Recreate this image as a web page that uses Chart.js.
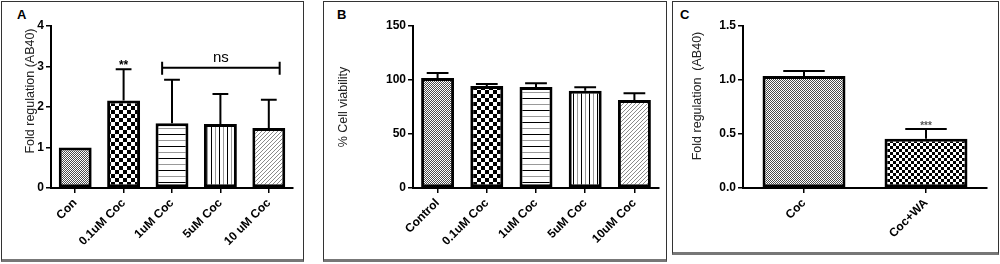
<!DOCTYPE html>
<html>
<head>
<title>Fold regulation (AB40) / Cell viability</title>
<script src="https://cdn.jsdelivr.net/npm/chart.js"></script>
<style>
  body {
    margin: 0;
    width: 1000px;
    height: 264px;
    background: #fff;
    position: relative;
    overflow: hidden;
    font-family: "Liberation Sans", Arial, sans-serif;
  }
  .panel {
    position: absolute;
    box-sizing: border-box;
    border: 1px solid #333;
    border-bottom: 3px solid #777;
  }
  .letter {
    position: absolute;
    font-weight: bold;
    font-size: 13px;
    line-height: 13px;
    color: #000;
  }
  canvas { position: absolute; }
</style>
</head>
<body>
  <div class="panel" style="left:1px;top:1px;width:303px;height:261px"></div>
  <div class="panel" style="left:323px;top:1px;width:344px;height:261px"></div>
  <div class="panel" style="left:672px;top:1px;width:327px;height:254px"></div>
  <div class="letter" style="left:17px;top:8px">A</div>
  <div class="letter" style="left:337px;top:8px">B</div>
  <div class="letter" style="left:680px;top:8px">C</div>

  <canvas id="chartA" width="299" height="257" style="left:3px;top:2px"></canvas>
  <canvas id="chartB" width="340" height="257" style="left:325px;top:2px"></canvas>
  <canvas id="chartC" width="323" height="249" style="left:674px;top:2px"></canvas>

<script>
  // panel A
  const labelsA = ['Con', '0.1uM Coc', '1uM Coc', '5uM Coc', '10 uM Coc'];
  const meansA = [1.0, 2.16, 1.60, 1.58, 1.48];
  const errA = [0, 0.77, 1.07, 0.74, 0.70];
  const starsA = ['', '**', '', '', ''];
  const ticksA = [0, 1, 2, 3, 4];
  const nsA = { from: 2, to: 4, y: 2.97, text: 'ns' };

  // panel B
  const labelsB = ['Control', '0.1uM Coc', '1uM Coc', '5uM Coc', '10uM Coc'];
  const meansB = [101.9, 94.4, 93.5, 90.1, 81.5];
  const errB = [4.6, 1.9, 3.4, 3.1, 6.2];
  const ticksB = [0, 50, 100, 150];

  // panel C
  const labelsC = ['Coc', 'Coc+WA'];
  const meansC = [1.037, 0.457];
  const errC = [0.046, 0.089];
  const starsC = ['', '***'];
  const ticksC = [0, 0.5, 1.0, 1.5];

  const FONT = '"Liberation Sans", Arial, sans-serif';

  // fill patterns (GraphPad style)
  function tile(w, h, draw) {
    const c = document.createElement('canvas');
    c.width = w; c.height = h;
    const g = c.getContext('2d');
    g.fillStyle = '#fff';
    g.fillRect(0, 0, w, h);
    draw(g);
    return document.createElement('canvas').getContext('2d').createPattern(c, 'repeat');
  }
  const fineCheck = () => tile(2, 2, g => {
    g.fillStyle = '#4a4a4a';
    g.fillRect(0, 0, 1, 1);
    g.fillRect(1, 1, 1, 1);
  });
  const bigCheck = s => tile(s * 2, s * 2, g => {
    g.fillStyle = '#000';
    g.fillRect(0, 0, s, s);
    g.fillRect(s, s, s, s);
  });
  const hStripes = () => tile(4, 12, g => {
    g.fillStyle = '#000';
    g.fillRect(0, 0, 4, 1);
    g.fillStyle = '#999';
    g.fillRect(0, 6, 4, 1);
  });
  const vStripes = () => tile(8, 4, g => {
    g.fillStyle = '#000';
    g.fillRect(0, 0, 1, 4);
    g.fillStyle = '#999';
    g.fillRect(4, 0, 1, 4);
  });
  const diag = () => tile(4, 4, g => {
    g.fillStyle = '#8a8a8a';
    for (let i = 0; i < 4; i++) g.fillRect(3 - i, i, 1, 1);
  });

  // error bars, significance marks, y title
  const extras = {
    id: 'extras',
    afterDatasetsDraw(chart, args, opts) {
      const ctx = chart.ctx;
      const y = chart.scales.y;
      const meta = chart.getDatasetMeta(0);
      const means = chart.data.datasets[0].data;
      ctx.save();
      ctx.strokeStyle = '#000';
      ctx.lineWidth = 2;
      meta.data.forEach((bar, i) => {
        const e = opts.errs[i];
        if (!e) return;
        const y0 = y.getPixelForValue(means[i]);
        const y1 = y.getPixelForValue(means[i] + e);
        const half = bar.width * opts.cap / 2;
        ctx.beginPath();
        ctx.moveTo(bar.x, y0);
        ctx.lineTo(bar.x, y1);
        ctx.moveTo(bar.x - half, y1);
        ctx.lineTo(bar.x + half, y1);
        ctx.stroke();
      });
      if (opts.stars) {
        ctx.fillStyle = opts.starColor || '#000';
        ctx.font = 'bold ' + (opts.starSize || 11) + 'px ' + FONT;
        ctx.textAlign = 'center';
        ctx.textBaseline = 'alphabetic';
        meta.data.forEach((bar, i) => {
          if (!opts.stars[i]) return;
          const y1 = y.getPixelForValue(means[i] + opts.errs[i]);
          ctx.fillText(opts.stars[i], bar.x, y1 + opts.starShift);
        });
      }
      if (opts.bracket) {
        const b = opts.bracket;
        const a = meta.data[b.from], z = meta.data[b.to];
        const x0 = a.x - a.width * 0.3, x1 = z.x + z.width * 0.33;
        const yy = y.getPixelForValue(b.y);
        ctx.beginPath();
        ctx.moveTo(x0, yy); ctx.lineTo(x1, yy);
        ctx.moveTo(x0, yy - 6); ctx.lineTo(x0, yy + 7);
        ctx.moveTo(x1, yy - 6); ctx.lineTo(x1, yy + 7);
        ctx.stroke();
        ctx.fillStyle = '#000';
        ctx.font = '15px ' + FONT;
        ctx.textAlign = 'center';
        ctx.fillText(b.text, (x0 + x1) / 2, yy - 6);
      }
      // rotated y axis title
      const t = opts.title;
      ctx.translate(t.x, t.y);
      ctx.rotate(-Math.PI / 2);
      ctx.fillStyle = '#222';
      ctx.font = t.size + 'px ' + FONT;
      ctx.textAlign = 'center';
      ctx.textBaseline = 'middle';
      ctx.fillText(t.text, 0, 0);
      ctx.restore();
    }
  };

  function makeChart(id, labels, means, fills, o) {
    return new Chart(document.getElementById(id), {
      type: 'bar',
      data: {
        labels: labels,
        datasets: [{
          data: means,
          backgroundColor: fills,
          borderColor: '#000',
          borderWidth: 3,
          borderSkipped: false,
          barPercentage: o.barPct,
          categoryPercentage: 1
        }]
      },
      options: {
        responsive: false,
        animation: false,
        layout: { padding: { top: 24, right: o.right, left: 0, bottom: 0 } },
        scales: {
          x: {
            ticks: {
              color: '#000',
              font: { family: FONT, weight: 'bold', size: 12 },
              minRotation: 45,
              maxRotation: 45,
              autoSkip: false,
              padding: 3
            },
            grid: { offset: false, drawOnChartArea: false, tickLength: 5, color: '#000', lineWidth: 1.5 },
            border: { width: 2, color: '#000' },
            afterFit: s => { s.height = o.xHeight; s.paddingLeft = 0; s.paddingRight = 0; }
          },
          y: {
            min: o.ticks[0],
            max: o.ticks[o.ticks.length - 1],
            afterBuildTicks: s => { s.ticks = o.ticks.map(v => ({ value: v })); },
            ticks: {
              color: '#000',
              font: { family: FONT, weight: 'bold', size: 12 },
              padding: 2,
              callback: o.fmt
            },
            grid: { drawOnChartArea: false, tickLength: 5, color: '#000', lineWidth: 1.5 },
            border: { width: 2, color: '#000' },
            afterFit: s => { s.width = o.yWidth; }
          }
        },
        plugins: {
          legend: { display: false },
          tooltip: { enabled: false },
          extras: o.extras
        }
      },
      plugins: [extras]
    });
  }

  makeChart('chartA', labelsA, meansA,
    [fineCheck(), bigCheck(4), hStripes(), vStripes(), diag()],
    {
      barPct: 0.68, right: 9, xHeight: 71, yWidth: 48,
      ticks: ticksA, fmt: v => v,
      extras: {
        errs: errA, cap: 0.48, stars: starsA, starSize: 12, starShift: 0, bracket: nsA,
        title: { text: 'Fold regulation (AB40)', x: 28, y: 89, size: 12.5 }
      }
    });

  makeChart('chartB', labelsB, meansB,
    [fineCheck(), bigCheck(4), hStripes(), vStripes(), diag()],
    {
      barPct: 0.67, right: 6, xHeight: 71, yWidth: 88,
      ticks: ticksB, fmt: v => v,
      extras: {
        errs: errB, cap: 0.66,
        title: { text: '% Cell viability', x: 19, y: 105, size: 12.5 }
      }
    });

  makeChart('chartC', labelsC, meansC,
    [fineCheck(), bigCheck(3)],
    {
      barPct: 0.68, right: 10, xHeight: 63, yWidth: 69,
      ticks: ticksC, fmt: v => Number(v).toFixed(1),
      extras: {
        errs: errC, cap: 0.5, stars: starsC, starColor: '#555', starSize: 10, starShift: 0,
        title: { text: 'Fold regulation  (AB40)', x: 23.5, y: 94, size: 12.5 }
      }
    });
</script>
</body>
</html>
